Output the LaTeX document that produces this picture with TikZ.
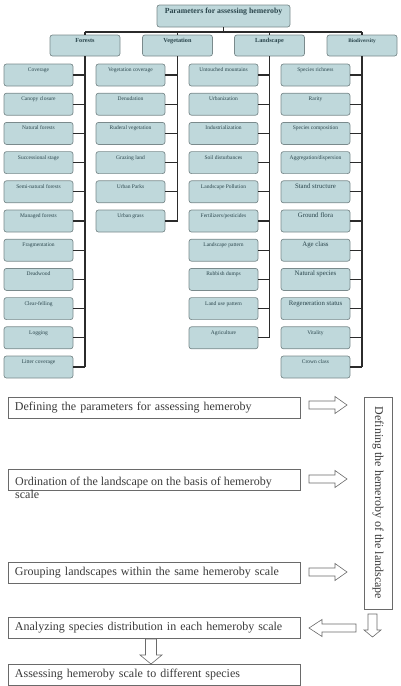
\documentclass[tikz,border=0pt]{standalone}
\usepackage{fontspec}
\setmainfont{Liberation Serif}
\definecolor{boxfill}{HTML}{BFD8DB}
\definecolor{boxborder}{HTML}{7A8A8C}
\definecolor{boxtext}{HTML}{2A454C}
\definecolor{connc}{HTML}{2B2B2B}
\definecolor{flowborder}{HTML}{6A6A6A}
\definecolor{flowtext}{HTML}{3A3A3A}
\newcommand\bigleaf[1]{{\fontsize{6.8}{8}\selectfont #1}}
\begin{document}
\begin{tikzpicture}[x=1pt,y=-1pt,
  box/.style={draw=boxborder, fill=boxfill, rounded corners=2.5pt, line width=0.7pt,
    text=boxtext, inner sep=0pt, text height=4.5pt, text depth=11.5pt, align=center},
  leaf/.style={box, minimum width=69pt, minimum height=22pt, font=\fontsize{5.5}{6}\selectfont},
  catbox/.style={box, minimum width=70pt, minimum height=21pt, font=\bfseries\fontsize{6.2}{7}\selectfont},
  topbox/.style={box, minimum width=133pt, minimum height=22pt, text height=6pt, text depth=12pt, font=\bfseries\fontsize{7.8}{9}\selectfont},
  conn/.style={draw=connc, line width=1.3pt},
  flowbox/.style={draw=flowborder, line width=0.6pt, minimum width=292pt, minimum height=21pt,
    inner xsep=7pt, text width=278pt, align=left, text=flowtext, font=\fontsize{12}{13}\selectfont},
  blockarrow/.style={draw=flowborder, line width=0.6pt, fill=white}
]
\useasboundingbox (0,0) rectangle (400,686);

% ---------- hierarchy ----------
\node[topbox] (top) at (223.5,16) {Parameters for assessing hemeroby};
\node[catbox] (F) at (85,45.5) {Forests};
\node[catbox] (V) at (177.5,45.5) {Vegetation};
\node[catbox] (L) at (269.5,45.5) {Landscape};
\node[catbox, font=\bfseries\fontsize{5.3}{6}\selectfont] (B) at (362,45.5) {Biodiversity};

\coordinate (bus) at (223.5,32);
\draw[conn] (top.south) -- (bus);
\draw[conn] (F.north |- bus) -- (B.north |- bus);
\foreach \c in {F,V,L,B} { \draw[conn] (\c.north |- bus) -- (\c.north); }

\foreach \t [count=\i from 0] in {Coverage, Canopy closure, Natural forests, Successional stage,
  Semi-natural forests, Managed forests, Fragmentation, Deadwood, Clear-felling, Logging, Litter coverage}
{ \node[leaf] (f\i) at (38.5,{75+\i*29.2}) {\t};
  \draw[conn] (f\i.east) -- (f\i.east -| F.south); }
\draw[conn] (F.south) -- (F.south |- f10.east);

\foreach \t [count=\i from 0] in {Vegetation coverage, Denudation, Ruderal vegetation, Grazing land,
  Urban Parks, Urban grass}
{ \node[leaf] (v\i) at (130.5,{75+\i*29.2}) {\t};
  \draw[conn] (v\i.east) -- (v\i.east -| V.south); }
\draw[conn] (V.south) -- (V.south |- v5.east);

\foreach \t [count=\i from 0] in {Untouched mountains, Urbanization, Industrialization, Soil disturbances,
  Landscape Pollution, Fertilizers/pesticides, Landscape pattern, Rubbish dumps, Land use pattern, Agriculture}
{ \node[leaf] (l\i) at (223.5,{75+\i*29.2}) {\t};
  \draw[conn] (l\i.east) -- (l\i.east -| L.south); }
\draw[conn] (L.south) -- (L.south |- l9.east);

\foreach \t [count=\i from 0] in {Species richness, Rarity, Species composition, Aggregation/dispersion,
  \bigleaf{Stand structure}, \bigleaf{Ground flora}, \bigleaf{Age class}, \bigleaf{Natural species},
  \bigleaf{Regeneration status}, Vitality, Crown class}
{ \node[leaf] (b\i) at (315.5,{75+\i*29.2}) {\t};
  \draw[conn] (b\i.east) -- (b\i.east -| B.south); }
\draw[conn] (B.south) -- (B.south |- b10.east);

% ---------- flow ----------
\node[flowbox] (s1) at (154,407.5) {Defining the parameters for assessing hemeroby};
\node[flowbox] (s2) at (154,480) {};
\node[anchor=north west, inner sep=0pt, align=left, text=flowtext, font=\fontsize{12}{13}\selectfont]
  (s2t) at (15,476.5) {Ordination of the landscape on the basis of hemeroby\\scale};
\node[flowbox] (s3) at (154,572.5) {Grouping landscapes within the same hemeroby scale};
\node[flowbox] (s4) at (154,628) {Analyzing species distribution in each hemeroby scale};
\node[flowbox] (s5) at (154,674.5) {Assessing hemeroby scale to different species};

\node[draw=flowborder, line width=0.6pt, minimum width=28pt, minimum height=212pt, inner sep=0pt]
  (vb) at (378,503) {};
\node[rotate=-90, text=flowtext, font=\fontsize{12}{13}\selectfont, inner sep=0pt] (vbt) at (vb.center)
  {Defining the hemeroby of the landscape};

% right arrows
\foreach \y in {405,479,572}
{ \draw[blockarrow] (309,\y-4) -- (335,\y-4) -- (335,\y-8.5) -- (347,\y) -- (335,\y+8.5)
    -- (335,\y+4) -- (309,\y+4) -- cycle; }
% left arrow
\draw[blockarrow] (356,624) -- (322,624) -- (322,619.5) -- (309,628) -- (322,636.5) -- (322,632)
  -- (356,632) -- cycle;
% down arrow right
\draw[blockarrow] (368,614) -- (368,630) -- (364,630) -- (372.5,637) -- (381,630) -- (377,630)
  -- (377,614) -- cycle;
% down arrow middle
\draw[blockarrow] (145.5,639) -- (145.5,655) -- (140,655) -- (151,664) -- (162,655) -- (156.5,655)
  -- (156.5,639) -- cycle;
\end{tikzpicture}
\end{document}
